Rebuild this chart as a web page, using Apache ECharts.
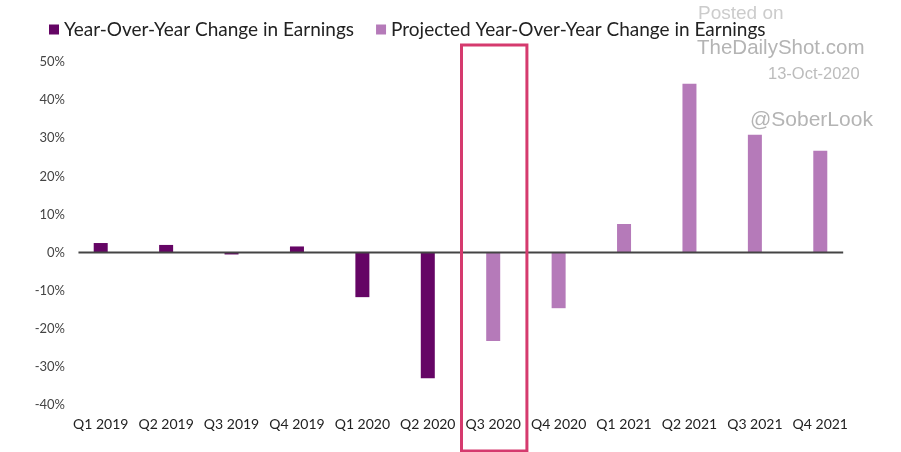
<!DOCTYPE html>
<html>
<head>
<meta charset="utf-8">
<script src="https://cdn.jsdelivr.net/npm/echarts@6/dist/echarts.min.js"></script>
<style>
html,body{margin:0;padding:0;background:#fff;}
#chart{width:901px;height:452px;}
</style>
</head>
<body>
<div id="chart"></div>
<script>
var categories = ['Q1 2019','Q2 2019','Q3 2019','Q4 2019','Q1 2020','Q2 2020','Q3 2020','Q4 2020','Q1 2021','Q2 2021','Q3 2021','Q4 2021'];
var actualValues = [2.5, 2.0, -0.5, 1.6, -11.7, -33.0, null, null, null, null, null, null];
var projectedValues = [null, null, null, null, null, null, -23.2, -14.6, 7.5, 44.3, 30.9, 26.7];
var yTicks = [-40, -30, -20, -10, 0, 10, 20, 30, 40, 50];
var highlightCategory = 'Q3 2020';

var chart = echarts.init(document.getElementById('chart'));
var option = {
  backgroundColor: '#ffffff',
  animation: false,
  textStyle: { fontFamily: 'Lato' },
  legend: {
    left: 44, top: 15, z: 10,
    itemWidth: 10, itemHeight: 10, itemGap: 22,
    icon: 'rect',
    textStyle: { fontFamily: 'Lato', fontSize: 19, color: '#222' },
    data: ['Year-Over-Year Change in Earnings', 'Projected Year-Over-Year Change in Earnings']
  },
  grid: { left: 68, right: 48, top: 62, bottom: 47, containLabel: false },
  xAxis: {
    type: 'category',
    data: categories,
    position: 'bottom',
    axisLine: { show: false },
    axisTick: { show: false },
    axisLabel: { fontFamily: 'Lato', fontSize: 14, color: '#222', margin: 12, interval: 0 }
  },
  yAxis: {
    type: 'value',
    min: yTicks[0], max: yTicks[yTicks.length - 1], interval: 10,
    splitLine: { show: false },
    axisLine: { show: false },
    axisTick: { show: false },
    axisLabel: { fontFamily: 'Lato', fontSize: 13, color: '#444', margin: 3, formatter: '{value}%' }
  },
  series: [
    {
      name: 'Year-Over-Year Change in Earnings',
      type: 'bar', barWidth: 14, barGap: '-100%',
      itemStyle: { color: '#650565' },
      data: actualValues
    },
    {
      name: 'Projected Year-Over-Year Change in Earnings',
      type: 'bar', barWidth: 14, barGap: '-100%',
      itemStyle: { color: '#b57ab9' },
      data: projectedValues
    }
  ]
};
chart.setOption(option);

// Zero line, highlight box around the Q3 2020 band, and watermark text
var idx = categories.indexOf(highlightCategory);
var c = chart.convertToPixel({ xAxisIndex: 0 }, idx);
var c2 = chart.convertToPixel({ xAxisIndex: 0 }, idx + 1);
var band = c2 - c;
var x0 = chart.convertToPixel({ xAxisIndex: 0 }, 0) - band * 0.34;
var x1 = chart.convertToPixel({ xAxisIndex: 0 }, categories.length - 1) + band * 0.35;
var yZero = chart.convertToPixel({ yAxisIndex: 0 }, 0);
chart.setOption({
  graphic: [
    { type: 'text', z: 1, left: 698, top: 4, style: { text: 'Posted on', fill: '#cccccc', font: '19px "Liberation Sans"' } },
    { type: 'text', z: 1, left: 697, top: 38, style: { text: 'TheDailyShot.com', fill: '#b4b4b4', font: '20.5px "Liberation Sans"' } },
    { type: 'text', z: 1, left: 768, top: 66, style: { text: '13-Oct-2020', fill: '#bcbcbc', font: '16.5px "Liberation Sans"' } },
    { type: 'text', z: 1, left: 750, top: 110, style: { text: '@SoberLook', fill: '#b4b4b4', font: '21px "Liberation Sans"' } },
    { type: 'line', z: 90, shape: { x1: x0, y1: yZero, x2: x1, y2: yZero },
      style: { stroke: '#444', lineWidth: 2 } },
    { type: 'rect', z: 100, shape: { x: c - band / 2 + 1, y: 45, width: band, height: 406 },
      style: { fill: 'none', stroke: '#d53a6e', lineWidth: 3 } }
  ]
});
</script>
</body>
</html>
